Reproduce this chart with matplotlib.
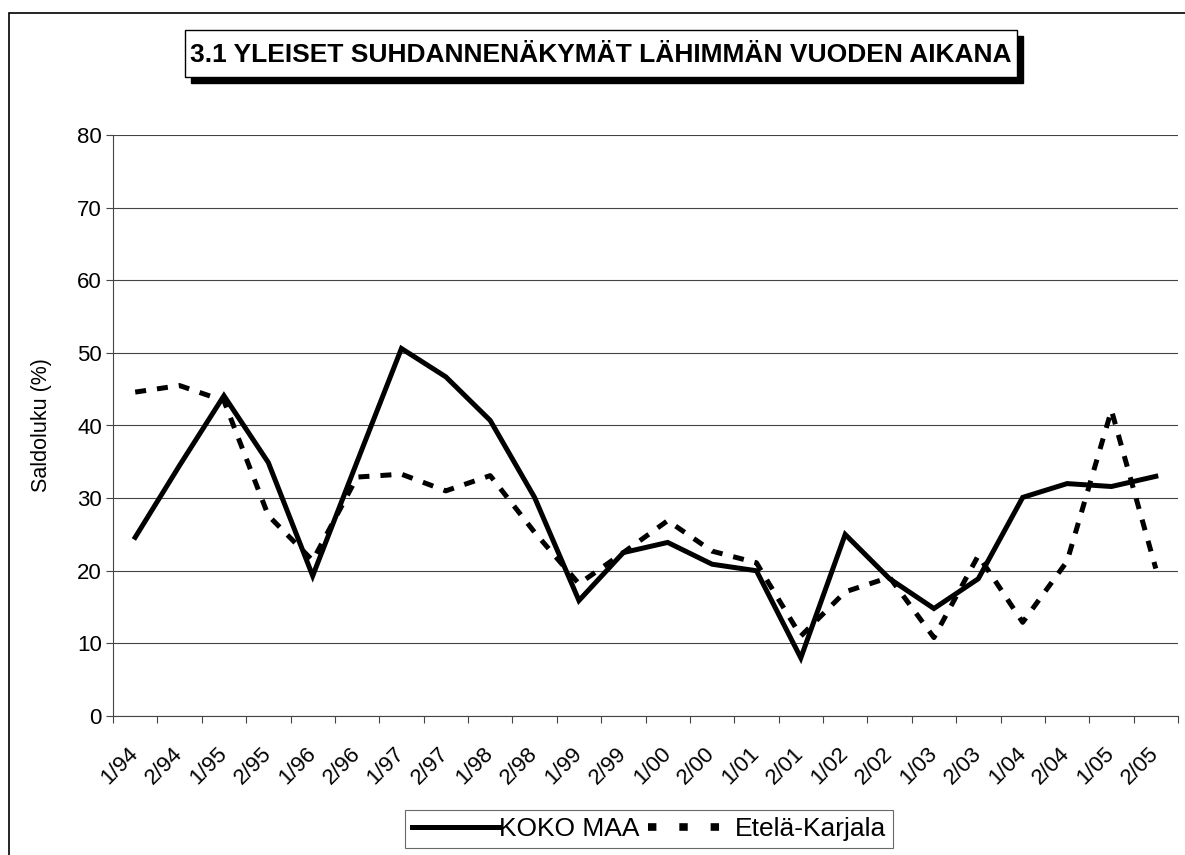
import matplotlib
matplotlib.use("Agg")
import matplotlib.pyplot as plt
from matplotlib.patches import Rectangle
from matplotlib.lines import Line2D
import numpy as np

plt.rcParams['font.family'] = ['Liberation Sans', 'DejaVu Sans']

# data
jaksot = ["1/94", "2/94", "1/95", "2/95", "1/96", "2/96", "1/97", "2/97",
          "1/98", "2/98", "1/99", "2/99", "1/00", "2/00", "1/01", "2/01",
          "1/02", "2/02", "1/03", "2/03", "1/04", "2/04", "1/05", "2/05"]
koko_maa = [24.6, 34.5, 44.1, 34.9, 19.3, 35.0, 50.6, 46.7, 40.7, 30.1, 15.9, 22.5,
            23.9, 20.9, 20.0, 8.0, 25.0, 18.9, 14.8, 18.9, 30.1, 32.0, 31.6, 33.0]
etela_karjala = [44.6, 45.5, 43.4, 27.6, 21.4, 32.9, 33.3, 31.0, 33.1, 25.3, 18.2, 22.5,
                 26.9, 22.7, 21.1, 11.0, 17.1, 19.1, 10.8, 22.1, 12.9, 21.3, 42.1, 20.3]

W, H = 1185, 855
fig = plt.figure(figsize=(W / 100, H / 100), dpi=100)

def px(x, y):
    # pixel (from top-left) -> figure fraction
    return x / W, 1 - y / H

# outer chart frame (runs off right and bottom edge)
fig.add_artist(Rectangle(px(9, 900), 1300 / W, (900 - 13) / H, transform=fig.transFigure,
                         fill=False, edgecolor='black', linewidth=1.2))

ax_l, ax_t, ax_r, ax_b = 113, 135, 1178, 716
ax = fig.add_axes([ax_l / W, 1 - ax_b / H, (ax_r - ax_l) / W, (ax_b - ax_t) / H])

x = np.arange(len(jaksot))
ax.plot(x, koko_maa, color='black', linewidth=3.6, solid_joinstyle='miter')
ax.plot(x, etela_karjala, color='black', linewidth=3.6, dashes=(2.2, 2.2))

ax.set_xlim(-0.5, len(jaksot) - 0.5)
ax.set_ylim(0, 80)
ax.set_yticks(np.arange(0, 81, 10))
ax.yaxis.grid(True, color='#444444', linewidth=0.8)
ax.set_axisbelow(True)

ax.set_xticks(x)
ax.set_xticklabels(jaksot, rotation=45, ha='right', va='center', rotation_mode='anchor', fontsize=16)
ax.set_xticks(np.arange(-0.5, len(jaksot)), minor=True)
ax.tick_params(axis='x', which='major', length=0, pad=25)
ax.tick_params(axis='x', which='minor', length=5, width=0.8, color='#444444', direction='out')
ax.tick_params(axis='y', length=5, width=0.8, color='#444444', labelsize=16, pad=3)

for s in ['top', 'right']:
    ax.spines[s].set_visible(False)
for s in ['left', 'bottom']:
    ax.spines[s].set_color('#444444')
    ax.spines[s].set_linewidth(0.8)

ax.set_ylabel("Saldoluku (%)", fontsize=15.5)
ax.yaxis.set_label_coords((52 - ax_l) / (ax_r - ax_l), 0.5)

# title box with shadow
tx0, ty0, tx1, ty1 = 185, 30, 1017, 77
fig.add_artist(Rectangle(px(tx0 + 6, ty1 + 6), (tx1 - tx0) / W, (ty1 - ty0) / H,
                         transform=fig.transFigure, facecolor='black', edgecolor='black'))
fig.add_artist(Rectangle(px(tx0, ty1), (tx1 - tx0) / W, (ty1 - ty0) / H,
                         transform=fig.transFigure, facecolor='white', edgecolor='black', linewidth=1))
fig.text(*px((tx0 + tx1) / 2, (ty0 + ty1) / 2 + 1), "3.1 YLEISET SUHDANNENÄKYMÄT LÄHIMMÄN VUODEN AIKANA",
         ha='center', va='center', fontsize=19, fontweight='bold')

handles = [Line2D([], [], color='black', linewidth=3.6),
           Line2D([], [], color='black', linewidth=5.5, dashes=(1.1, 3.0))]
leg = fig.legend(handles, ["KOKO MAA", "Etelä-Karjala"], loc='center',
                 bbox_to_anchor=px(649, 829), ncol=2, fontsize=19, frameon=True,
                 fancybox=False, edgecolor='#444444', handlelength=3.3, handletextpad=0.0,
                 columnspacing=0.3, borderpad=0.25, borderaxespad=0)
leg.get_frame().set_linewidth(0.8)

fig.savefig("out.png", dpi=100)
